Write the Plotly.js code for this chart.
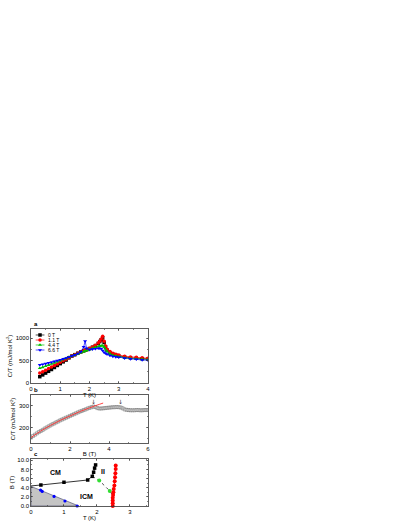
<!DOCTYPE html>
<html><head><meta charset="utf-8">
<script src="https://cdn.plot.ly/plotly-3.0.1.min.js"></script>
<style>html,body{margin:0;padding:0;background:#fff;}#chart{width:409px;height:529px;}</style>
</head><body><div id="chart"></div>
<script>
// ---- Panel a: C/T vs T ----
const T_a = [0.3,0.4,0.5,0.6,0.7,0.8,0.9,1.0,1.1,1.2,1.3,1.4,1.5,1.6,1.7,1.8,1.85,1.9,2.0,2.1,2.2,2.3,2.35,2.4,2.45,2.5,2.55,2.6,2.7,2.8,2.9,3.0,3.2,3.4,3.6,3.8,4.0];
const CT_0T  = [140,180,220,260,300,345,390,430,470,510,560,600,630,660,690,715,728,740,765,795,830,880,920,960,1005,900,800,730,670,640,620,600,575,560,550,540,535];
const CT_11T = [220,250,285,320,355,390,425,460,495,530,565,600,630,660,690,715,728,740,770,800,840,890,930,980,1040,930,820,750,700,660,640,620,595,580,570,560,550];
const CT_44T = [330,350,375,400,425,450,475,500,525,550,575,600,625,650,675,700,712,725,750,775,795,810,820,828,830,800,740,700,650,615,600,585,560,545,535,525,520];
const CT_66T = [400,415,430,445,460,480,495,515,535,555,575,600,625,655,690,800,930,770,740,750,760,770,770,760,720,680,660,640,610,590,580,570,550,535,525,512,505];
const seriesNames = ['0 T','1.1 T','4.4 T','6.6 T'];

// ---- Panel b: C/T vs B ----
const B_b = [0,0.1,0.2,0.3,0.4,0.5,0.6,0.7,0.8,0.9,1.0,1.1,1.2,1.3,1.4,1.5,1.6,1.7,1.8,1.9,2.0,2.1,2.2,2.3,2.4,2.5,2.6,2.7,2.8,2.9,3.0,3.1,3.2,3.3,3.4,3.5,3.6,3.7,3.8,3.9,4.0,4.1,4.2,4.3,4.4,4.5,4.6,4.7,4.8,4.9,5.0,5.1,5.2,5.3,5.4,5.5,5.6,5.7,5.8,5.9,6.0];
const CT_b = [155,162,168,174,180,185,190,196,201,206,211,216,220,225,229,234,238,242,246,250,254,258,262,266,270,274,277,281,284,288,291,294,297,295,290,288,288,289,290,291,292,293,294,294,295,294,293,289,284,282,281,280,280,280,281,281,280,280,281,281,281];
const fitB  = [0,0.5,1,1.5,2,2.5,3,3.5,3.7];
const fitCT = [155,185,211,234,254,274,291,307,313];
const arrowB = [3.2, 4.6];

// ---- Panel c: phase diagram ----
const cmT = [0.3,1.0,1.72,1.86,1.9,1.93,1.96];
const cmB = [4.6,5.2,5.7,6.5,7.4,8.3,9.0];
const cmExtT = [0,0.3];
const cmExtB = [4.4,4.6];
const icmLineT = [1.86,2.07,2.39,2.47];
const icmLineB = [6.5,5.6,3.3,2.4];
const greenT = [2.07,2.39];
const greenB = [5.6,3.3];
const redT = [2.57,2.57,2.56,2.55,2.54,2.53,2.51,2.5,2.49,2.48,2.48,2.48,2.48];
const redB = [8.9,8.1,7.2,6.3,5.4,4.5,3.7,3.0,2.4,1.8,1.2,0.6,0.0];
const blueT = [0.29,0.34,0.7,1.03,1.4];
const blueB = [3.5,3.2,2.1,1.1,0.0];
const shadeT = [0,0,1.45,0];
const shadeB = [0,4.3,0,0];
const regionLabels = ['CM','II','ICM'];
const regionT = [0.73,2.19,1.69];
const regionB = [7.4,7.5,2.1];

const W=409,H=529;
const px = v=>v/W, py = v=>1-v/H;
const dx=[px(31),px(148)];
const dA=[py(383),py(329)], dB=[py(443),py(395)], dC=[py(506),py(459)];
const FAM = 'Arial, "Liberation Sans", sans-serif';
const font = {family:FAM, size:6, color:'#000'};
const colors = ['#000000','#ff0000','#00c000','#0000ff'];
const symbols = ['square','circle','triangle-up','triangle-down'];

const traces = [];
[CT_0T,CT_11T,CT_44T,CT_66T].forEach((ys,i)=>{
  traces.push({x:T_a,y:ys,xaxis:'x',yaxis:'y',type:'scatter',mode:'lines+markers',name:seriesNames[i],
    line:{color:colors[i],width:0.7},marker:{symbol:symbols[i],size:3.5,color:colors[i]}});
});
// legend markers on auxiliary (overlaying) axes
const legY=[0.889,0.796,0.704,0.611];
seriesNames.forEach((n,i)=>{
  traces.push({x:[0.04,0.115],y:[legY[i],legY[i]],xaxis:'x4',yaxis:'y4',type:'scatter',mode:'lines',
    line:{color:colors[i],width:0.7},hoverinfo:'skip'});
  traces.push({x:[0.077],y:[legY[i]],xaxis:'x4',yaxis:'y4',type:'scatter',mode:'markers',
    marker:{symbol:symbols[i],size:3.5,color:colors[i]},hoverinfo:'skip'});
});
traces.push({x:B_b,y:CT_b,xaxis:'x2',yaxis:'y2',type:'scatter',mode:'markers',
  marker:{symbol:'square-open',size:3,color:'#666',line:{width:0.5,color:'#666'}}});
traces.push({x:fitB,y:fitCT,xaxis:'x2',yaxis:'y2',type:'scatter',mode:'lines',line:{color:'#ff3030',width:0.9,shape:'spline'}});

traces.push({x:shadeT,y:shadeB,xaxis:'x3',yaxis:'y3',type:'scatter',mode:'lines',fill:'toself',fillcolor:'#c4c4c4',line:{color:'#555577',width:0.7}});
traces.push({x:cmExtT,y:cmExtB,xaxis:'x3',yaxis:'y3',type:'scatter',mode:'lines',line:{color:'#000',width:0.8}});
traces.push({x:cmT,y:cmB,xaxis:'x3',yaxis:'y3',type:'scatter',mode:'lines+markers',line:{color:'#000',width:0.8},marker:{symbol:'square',size:3.5,color:'#000'}});
traces.push({x:icmLineT,y:icmLineB,xaxis:'x3',yaxis:'y3',type:'scatter',mode:'lines',line:{color:'#222',width:0.8,dash:'dot'}});
traces.push({x:greenT,y:greenB,xaxis:'x3',yaxis:'y3',type:'scatter',mode:'markers',marker:{symbol:'circle',size:4,color:'#33dd33'}});
traces.push({x:redT,y:redB,xaxis:'x3',yaxis:'y3',type:'scatter',mode:'lines+markers',line:{color:'#ff0000',width:0.8},marker:{symbol:'circle',size:4,color:'#ff0000'},cliponaxis:false});
traces.push({x:blueT,y:blueB,xaxis:'x3',yaxis:'y3',type:'scatter',mode:'markers',marker:{symbol:'circle',size:3.2,color:'#0000ff'},cliponaxis:false});

const axBase = {showline:true,linecolor:'#333',linewidth:0.8,mirror:'allticks',ticks:'inside',ticklen:2,tickwidth:0.6,tickcolor:'#333',
  showgrid:false,zeroline:false,tickfont:font};
const layout = {
  width:W,height:H,margin:{l:0,r:0,t:0,b:0},paper_bgcolor:'#fff',plot_bgcolor:'rgba(0,0,0,0)',showlegend:false,
  xaxis:Object.assign({},axBase,{domain:dx,anchor:'y',range:[0,4],tickvals:[0,1,2,3,4],minor:{ticks:'inside',ticklen:1,dtick:0.5,tickcolor:'#333'},title:{text:'T (K)',font:font,standoff:0}}),
  yaxis:Object.assign({},axBase,{domain:dA,anchor:'x',range:[0,1200],tickvals:[0,500,1000],minor:{ticks:'inside',ticklen:1,dtick:250,tickcolor:'#333'},title:{text:'C/T (mJ/mol K<sup>2</sup>)',font:font,standoff:2}}),
  xaxis2:Object.assign({},axBase,{domain:dx,anchor:'y2',range:[0,6],tickvals:[0,2,4,6],minor:{ticks:'inside',ticklen:1,dtick:1,tickcolor:'#333'},title:{text:'B (T)',font:font,standoff:0}}),
  yaxis2:Object.assign({},axBase,{domain:dB,anchor:'x2',range:[130,350],tickvals:[200,300],minor:{ticks:'inside',ticklen:1,dtick:50,tickcolor:'#333'},title:{text:'C/T (mJ/mol K<sup>2</sup>)',font:font,standoff:2}}),
  xaxis3:Object.assign({},axBase,{domain:dx,anchor:'y3',range:[0,3.55],tickvals:[0,1,2,3],minor:{ticks:'inside',ticklen:1,dtick:0.5,tickcolor:'#333'},title:{text:'T (K)',font:font,standoff:1}}),
  yaxis3:Object.assign({},axBase,{domain:dC,anchor:'x3',range:[0,10.3],tickvals:[0,2,4,6,8,10],tickformat:'.1f',minor:{ticks:'inside',ticklen:1,dtick:1,tickcolor:'#333'},title:{text:'B (T)',font:font,standoff:2}}),
  xaxis4:{overlaying:'x',anchor:'y4',range:[0,1],visible:false,fixedrange:true},
  yaxis4:{overlaying:'y',anchor:'x4',range:[0,1],visible:false,fixedrange:true},
  annotations:[]
};
// panel letters
[['a',dA],['b',dB],['c',dC]].forEach(([t,d])=>{
  layout.annotations.push({text:'<b>'+t+'</b>',xref:'paper',yref:'paper',x:dx[0]+0.002,y:d[1],xanchor:'left',yanchor:'bottom',showarrow:false,font:Object.assign({},font,{size:6})});
});
// legend text
seriesNames.forEach((n,i)=>{
  layout.annotations.push({text:n,xref:'x4',yref:'y4',x:0.13,y:legY[i],xanchor:'left',yanchor:'middle',showarrow:false,font:Object.assign({},font,{size:5})});
});
// arrows in panel b (unicode arrow glyphs)
arrowB.forEach(b=>{
  layout.annotations.push({xref:'x2',yref:'y2',x:b,y:300,yanchor:'bottom',showarrow:false,text:'↓',borderpad:0,font:{family:'"DejaVu Sans", sans-serif',size:6,color:'#333'}});
});
// region labels in panel c
regionLabels.forEach((t,i)=>{
  layout.annotations.push({text:'<b>'+t+'</b>',xref:'x3',yref:'y3',x:regionT[i],y:regionB[i],showarrow:false,font:{family:FAM,size:7,color:'#000'}});
});
Plotly.newPlot('chart',traces,layout,{staticPlot:true,displayModeBar:false});
</script></body></html>
